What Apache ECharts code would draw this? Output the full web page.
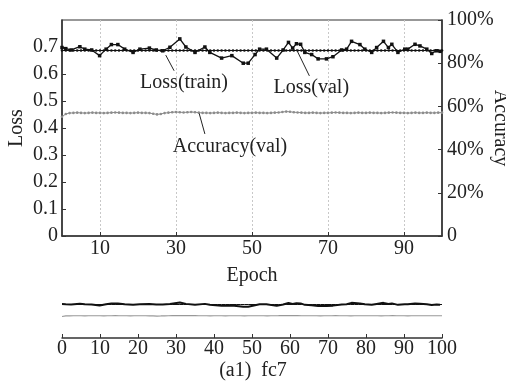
<!DOCTYPE html>
<html>
<head>
<meta charset="utf-8">
<script src="https://cdn.jsdelivr.net/npm/echarts@6/dist/echarts.min.js"></script>
<style>
  html,body{margin:0;padding:0;background:#fff;}
  #c{width:506px;height:385px;}
</style>
</head>
<body>
<div id="c"></div>
<script>
/* loss / accuracy por época — fc7 */
const FONT = '"Liberation Serif", "DejaVu Serif", serif';
const INK = '#222';
const FS = 20;

const valEpochs = [0, 1, 2.4, 4.7, 6, 7.8, 9.9, 11.6, 13, 14.7,
  16.5, 18.7, 20.5, 23, 24.8, 26.5, 28.4, 31, 32.6, 35,
  37.6, 38.9, 42, 44.7, 47.7, 49, 50.8, 52, 53.8, 56.5,
  58.2, 59.6, 60.7, 61.7, 62.8, 63.9, 65.7, 67.4, 69.6, 71.3,
  73.6, 74.9, 76.2, 78.4, 79.7, 81.5, 82.8, 84.6, 85.9, 86.8,
  88.4, 90.2, 91, 92.9, 94.2, 96, 97.3, 98.6, 99.5];
const valLoss = [0.698, 0.694, 0.689, 0.701, 0.692, 0.689, 0.668, 0.692, 0.709, 0.709,
  0.692, 0.680, 0.692, 0.696, 0.689, 0.686, 0.699, 0.730, 0.700, 0.680,
  0.700, 0.680, 0.659, 0.668, 0.640, 0.640, 0.672, 0.692, 0.692, 0.659,
  0.689, 0.717, 0.696, 0.712, 0.710, 0.680, 0.672, 0.656, 0.656, 0.664,
  0.689, 0.692, 0.721, 0.709, 0.692, 0.680, 0.698, 0.721, 0.698, 0.710,
  0.680, 0.692, 0.692, 0.710, 0.704, 0.692, 0.676, 0.686, 0.684];

// Loss(train): um ponto por época (0..100)
const trainLoss = [0.687, 0.687, 0.687, 0.687, 0.687, 0.687, 0.687, 0.687, 0.687, 0.687,
  0.687, 0.687, 0.687, 0.687, 0.687, 0.687, 0.687, 0.687, 0.687, 0.687,
  0.687, 0.687, 0.687, 0.687, 0.687, 0.687, 0.687, 0.687, 0.687, 0.687,
  0.687, 0.687, 0.687, 0.687, 0.687, 0.687, 0.687, 0.687, 0.687, 0.687,
  0.687, 0.687, 0.687, 0.687, 0.687, 0.687, 0.687, 0.687, 0.687, 0.687,
  0.687, 0.687, 0.687, 0.687, 0.687, 0.687, 0.687, 0.687, 0.687, 0.687,
  0.687, 0.687, 0.687, 0.687, 0.687, 0.687, 0.687, 0.687, 0.687, 0.687,
  0.687, 0.687, 0.687, 0.687, 0.687, 0.687, 0.687, 0.687, 0.687, 0.687,
  0.687, 0.687, 0.687, 0.687, 0.687, 0.687, 0.687, 0.687, 0.687, 0.687,
  0.687, 0.687, 0.687, 0.687, 0.687, 0.687, 0.687, 0.687, 0.687, 0.687, 0.687];

// Accuracy(val) em %, um ponto por época (0..100)
const accVal = [55.2, 56.5, 56.9, 57.0, 57.1, 57.0, 56.9, 57.0, 57.1, 57.0,
  57.0, 56.9, 57.0, 57.1, 57.2, 57.1, 57.0, 57.0, 56.9, 57.0,
  57.1, 57.0, 57.0, 56.9, 56.6, 56.3, 56.5, 56.9, 57.1, 57.3,
  57.4, 57.3, 57.2, 57.3, 57.4, 57.3, 57.1, 57.0, 57.0, 56.9,
  57.0, 57.1, 57.0, 56.9, 57.0, 57.0, 57.1, 57.0, 56.9, 57.0,
  57.0, 57.1, 57.0, 57.0, 56.9, 57.0, 57.1, 57.2, 57.4, 57.6,
  57.5, 57.3, 57.2, 57.1, 57.0, 57.0, 57.1, 57.0, 56.9, 57.0,
  57.0, 57.1, 57.2, 57.1, 57.0, 57.0, 56.9, 57.0, 57.1, 57.0,
  57.0, 57.1, 57.0, 57.0, 56.9, 57.0, 57.1, 57.2, 57.1, 57.0,
  57.0, 56.9, 57.0, 57.1, 57.0, 57.0, 57.1, 57.0, 57.0, 57.1, 57.1];

const xLabelTicks = [10, 30, 50, 70, 90];

// anotações em coordenadas de dados (época, loss)
const notes = [
  {text:'Loss(train)',   from:[27.3, 0.670], to:[29.5, 0.612], at:[32.1, 0.567]},
  {text:'Loss(val)',     from:[61.7, 0.691], to:[65.1, 0.593], at:[65.6, 0.548]},
  {text:'Accuracy(val)', from:[36.1, 0.454], to:[37.6, 0.378], at:[44.2, 0.330]}
];

const valPts = valEpochs.map((e,i)=>[e, valLoss[i]]);
const trainPts = trainLoss.map((v,i)=>[i, v]);
const accPts = accVal.map((v,i)=>[i, v]);

const AXL = {lineStyle:{color:'#333', width:1.5}};
const LBL = {color:INK, fontSize:FS, fontFamily:FONT};

const chart = echarts.init(document.getElementById('c'), null, {renderer:'canvas'});
chart.setOption({
  animation:false,
  textStyle:{fontFamily:FONT},
  title:{text:'(a1)  fc7', left:248, textAlign:'center', top:356,
    textStyle:{color:INK, fontSize:FS, fontWeight:'normal', fontFamily:FONT}},
  grid:[
    {left:62, right:64, top:20, height:216, show:true, borderColor:'#333', borderWidth:1.2,
     backgroundColor:'transparent', outerBoundsMode:'none', containLabel:false},
    {left:62, right:64, top:299, height:39, outerBoundsMode:'none', containLabel:false}
  ],
  xAxis:[
    {type:'value', gridIndex:0, min:0, max:100, interval:10,
     name:'Epoch', nameLocation:'middle', nameGap:30, nameTextStyle:LBL,
     axisLine:AXL,
     axisTick:{inside:true, length:4, lineStyle:{color:'#333'}, customValues:xLabelTicks},
     axisLabel:{...LBL, margin:3, customValues:xLabelTicks},
     splitLine:{show:true, lineStyle:{color:'#c8c8c8', type:[2,2], width:1}}},
    {type:'value', gridIndex:1, min:0, max:100, interval:10,
     axisLine:AXL,
     axisTick:{inside:true, length:4, lineStyle:{color:'#333'}},
     axisLabel:{...LBL, margin:1},
     splitLine:{show:false}}
  ],
  yAxis:[
    {type:'value', gridIndex:0, min:0, max:0.8, interval:0.1, position:'left',
     axisLine:{show:true, ...AXL},
     axisTick:{show:true, inside:true, length:4, lineStyle:{color:'#333'}},
     axisLabel:{...LBL, margin:4, showMaxLabel:false,
       formatter:v=>v===0?'0':v.toFixed(1)},
     splitLine:{show:false}},
    {type:'value', gridIndex:0, min:0, max:100, interval:20, position:'right',
     axisLine:{show:true, ...AXL},
     axisTick:{show:true, inside:true, length:4, lineStyle:{color:'#333'}},
     axisLabel:{...LBL, margin:5, formatter:v=>v===0?'0':v+'%'},
     splitLine:{show:false}},
    {type:'value', gridIndex:1, min:0, max:0.8, show:false},
    {type:'value', gridIndex:1, min:0, max:100, show:false}
  ],
  series:[
    {name:'Loss(train)', type:'line', xAxisIndex:0, yAxisIndex:0, data:trainPts,
     symbol:'circle', symbolSize:2.6, showSymbol:true,
     lineStyle:{color:'#111', width:1}, itemStyle:{color:'#111'}, z:3},
    {name:'Loss(val)', type:'line', xAxisIndex:0, yAxisIndex:0, data:valPts,
     symbol:'rect', symbolSize:3.5, showSymbol:true,
     lineStyle:{color:'#111', width:1.3}, itemStyle:{color:'#111'}, z:4},
    {name:'Accuracy(val)', type:'line', xAxisIndex:0, yAxisIndex:1, data:accPts,
     symbol:'circle', symbolSize:2.6, showSymbol:true,
     lineStyle:{color:'#8c8c8c', width:1}, itemStyle:{color:'#8c8c8c'}, z:2},
    // painel de visão geral
    {type:'line', xAxisIndex:1, yAxisIndex:2, data:valPts, showSymbol:false,
     lineStyle:{color:'#111', width:2}},
    {type:'line', xAxisIndex:1, yAxisIndex:2, data:trainPts, showSymbol:false,
     lineStyle:{color:'#111', width:1}},
    {type:'line', xAxisIndex:1, yAxisIndex:3, data:accPts, showSymbol:false,
     lineStyle:{color:'#999', width:1.2}}
  ]
});

// textos e setas das anotações
const px = p => chart.convertToPixel({gridIndex:0}, p);
const g = [];
notes.forEach(n=>{
  const a = px(n.from), b = px(n.to), t = px(n.at);
  g.push({type:'line', shape:{x1:a[0], y1:a[1], x2:b[0], y2:b[1]},
    style:{stroke:INK, lineWidth:1}, z:10});
  g.push({type:'text', x:t[0], y:t[1],
    style:{text:n.text, fill:INK, font:FS + 'px ' + FONT, align:'center', verticalAlign:'middle'}, z:10});
});
// títulos dos eixos verticais
const midR = px([100, 0.4]), midL = px([0, 0.4]);
g.push({type:'text', x:midR[0] + 58, y:midR[1], rotation:-Math.PI/2,
  style:{text:'Accuracy', fill:INK, font:FS + 'px ' + FONT, align:'center', verticalAlign:'middle'}});
g.push({type:'text', x:midL[0] - 45, y:midL[1], rotation:Math.PI/2,
  style:{text:'Loss', fill:INK, font:FS + 'px ' + FONT, align:'center', verticalAlign:'middle'}});
chart.setOption({graphic:g});
</script>
</body>
</html>
